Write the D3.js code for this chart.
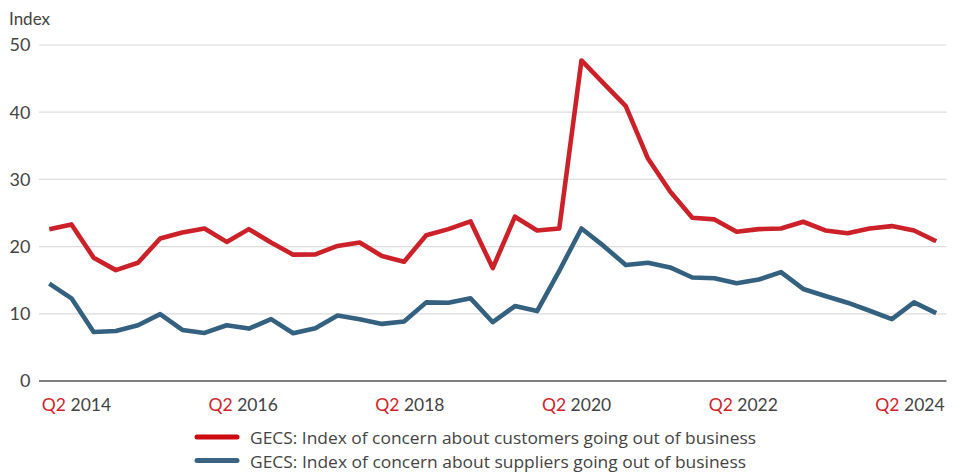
<!DOCTYPE html>
<html><head><meta charset="utf-8">
<script src="https://cdn.jsdelivr.net/npm/d3@7"></script>
<style>
html,body{margin:0;padding:0;background:#fff;}
svg{display:block;font-family:Lato,"Open Sans",sans-serif;}
</style></head>
<body><svg id="chart" width="963" height="474"></svg>
<script>
const quarters = [
"Q2 2014","Q3 2014","Q4 2014","Q1 2015","Q2 2015","Q3 2015","Q4 2015","Q1 2016",
"Q2 2016","Q3 2016","Q4 2016","Q1 2017","Q2 2017","Q3 2017","Q4 2017","Q1 2018",
"Q2 2018","Q3 2018","Q4 2018","Q1 2019","Q2 2019","Q3 2019","Q4 2019","Q1 2020",
"Q2 2020","Q3 2020","Q4 2020","Q1 2021","Q2 2021","Q3 2021","Q4 2021","Q1 2022",
"Q2 2022","Q3 2022","Q4 2022","Q1 2023","Q2 2023","Q3 2023","Q4 2023","Q1 2024",
"Q2 2024"];
const customers = [22.6,23.3,18.35,16.5,17.6,21.2,22.1,22.7,20.7,22.6,20.6,18.8,18.85,
20.1,20.6,18.6,17.75,21.7,22.6,23.75,16.8,24.45,22.4,22.7,47.7,44.3,40.9,33.1,28.2,
24.3,24.05,22.2,22.6,22.7,23.7,22.4,22.0,22.7,23.05,22.4,20.8];
const suppliers = [14.5,12.3,7.3,7.45,8.3,9.95,7.6,7.15,8.3,7.8,9.2,7.1,7.85,
9.75,9.2,8.5,8.85,11.7,11.65,12.3,8.75,11.15,10.4,16.4,22.7,20.1,17.25,
17.6,16.9,15.4,15.3,14.55,15.1,16.2,13.7,12.65,11.65,10.45,9.2,11.7,10.1];
const tickLabels = [["Q2","2014"],["Q2","2016"],["Q2","2018"],["Q2","2020"],["Q2","2022"],["Q2","2024"]];
const yTicks = [0,10,20,30,40,50];
const seriesNames = ["GECS: Index of concern about customers going out of business",
                     "GECS: Index of concern about suppliers going out of business"];

const RED = "#cc2129", BLUE = "#346180";
const svg = d3.select("#chart");
const x = d3.scalePoint().domain(quarters).range([49.3, 936.2]);
const y = d3.scaleLinear().domain([0,50]).range([381,45]);
const gridL = 39, gridR = 946.5;

// gridlines
svg.append("g").selectAll("line").data(yTicks.filter(d=>d>0)).join("line")
  .attr("x1",gridL).attr("x2",gridR)
  .attr("y1",d=>y(d)).attr("y2",d=>y(d))
  .attr("stroke","#dcdcdc").attr("stroke-width",1.2);
// y labels
svg.append("g").selectAll("text").data(yTicks).join("text")
  .attr("x",30.5).attr("y",d=>y(d)).attr("dy","0.35em")
  .attr("text-anchor","end").attr("font-size",18).attr("fill","#444")
  .text(d=>d);
svg.append("text").attr("x",9).attr("y",25.3).attr("font-size",17).attr("fill","#444").text("Index");

// axis line
svg.append("line").attr("x1",gridL).attr("x2",gridR).attr("y1",y(0)).attr("y2",y(0))
  .attr("stroke","#555").attr("stroke-width",1.6);

// x labels evenly spaced
const xl = d3.scalePoint().domain(tickLabels.map(d=>d.join(" "))).range([76.5, 910]);
const xt = svg.append("g").selectAll("text").data(tickLabels).join("text")
  .attr("x",d=>xl(d.join(" "))).attr("y",411).attr("text-anchor","middle")
  .attr("font-size",17.5);
xt.append("tspan").attr("fill","#d2232a").text(d=>d[0]);
xt.append("tspan").attr("fill","#444").text(d=>" "+d[1]);

// lines
const line = d3.line().x((d,i)=>x(quarters[i])).y(d=>y(d));
svg.append("path").datum(suppliers).attr("d",line).attr("fill","none")
  .attr("stroke",BLUE).attr("stroke-width",4.6).attr("stroke-linejoin","round");
svg.append("path").datum(customers).attr("d",line).attr("fill","none")
  .attr("stroke",RED).attr("stroke-width",4.6).attr("stroke-linejoin","round");

// legend
const leg = svg.append("g");
const legColors = ["#cc0a10", "#3b6484"];
const legWidths = [506, 496];
seriesNames.forEach((name,i)=>{
  const yy = 437 + i*23.5;
  leg.append("line").attr("x1",197).attr("x2",237).attr("y1",yy).attr("y2",yy)
    .attr("stroke",legColors[i]).attr("stroke-width",5).attr("stroke-linecap","round");
  leg.append("text").attr("x",250).attr("y",yy+7.3).attr("font-size",16.5)
    .attr("font-family","'Open Sans',Lato,sans-serif").attr("fill","#444")
    .attr("textLength",legWidths[i]).attr("lengthAdjust","spacingAndGlyphs").text(name);
});
</script></body></html>
